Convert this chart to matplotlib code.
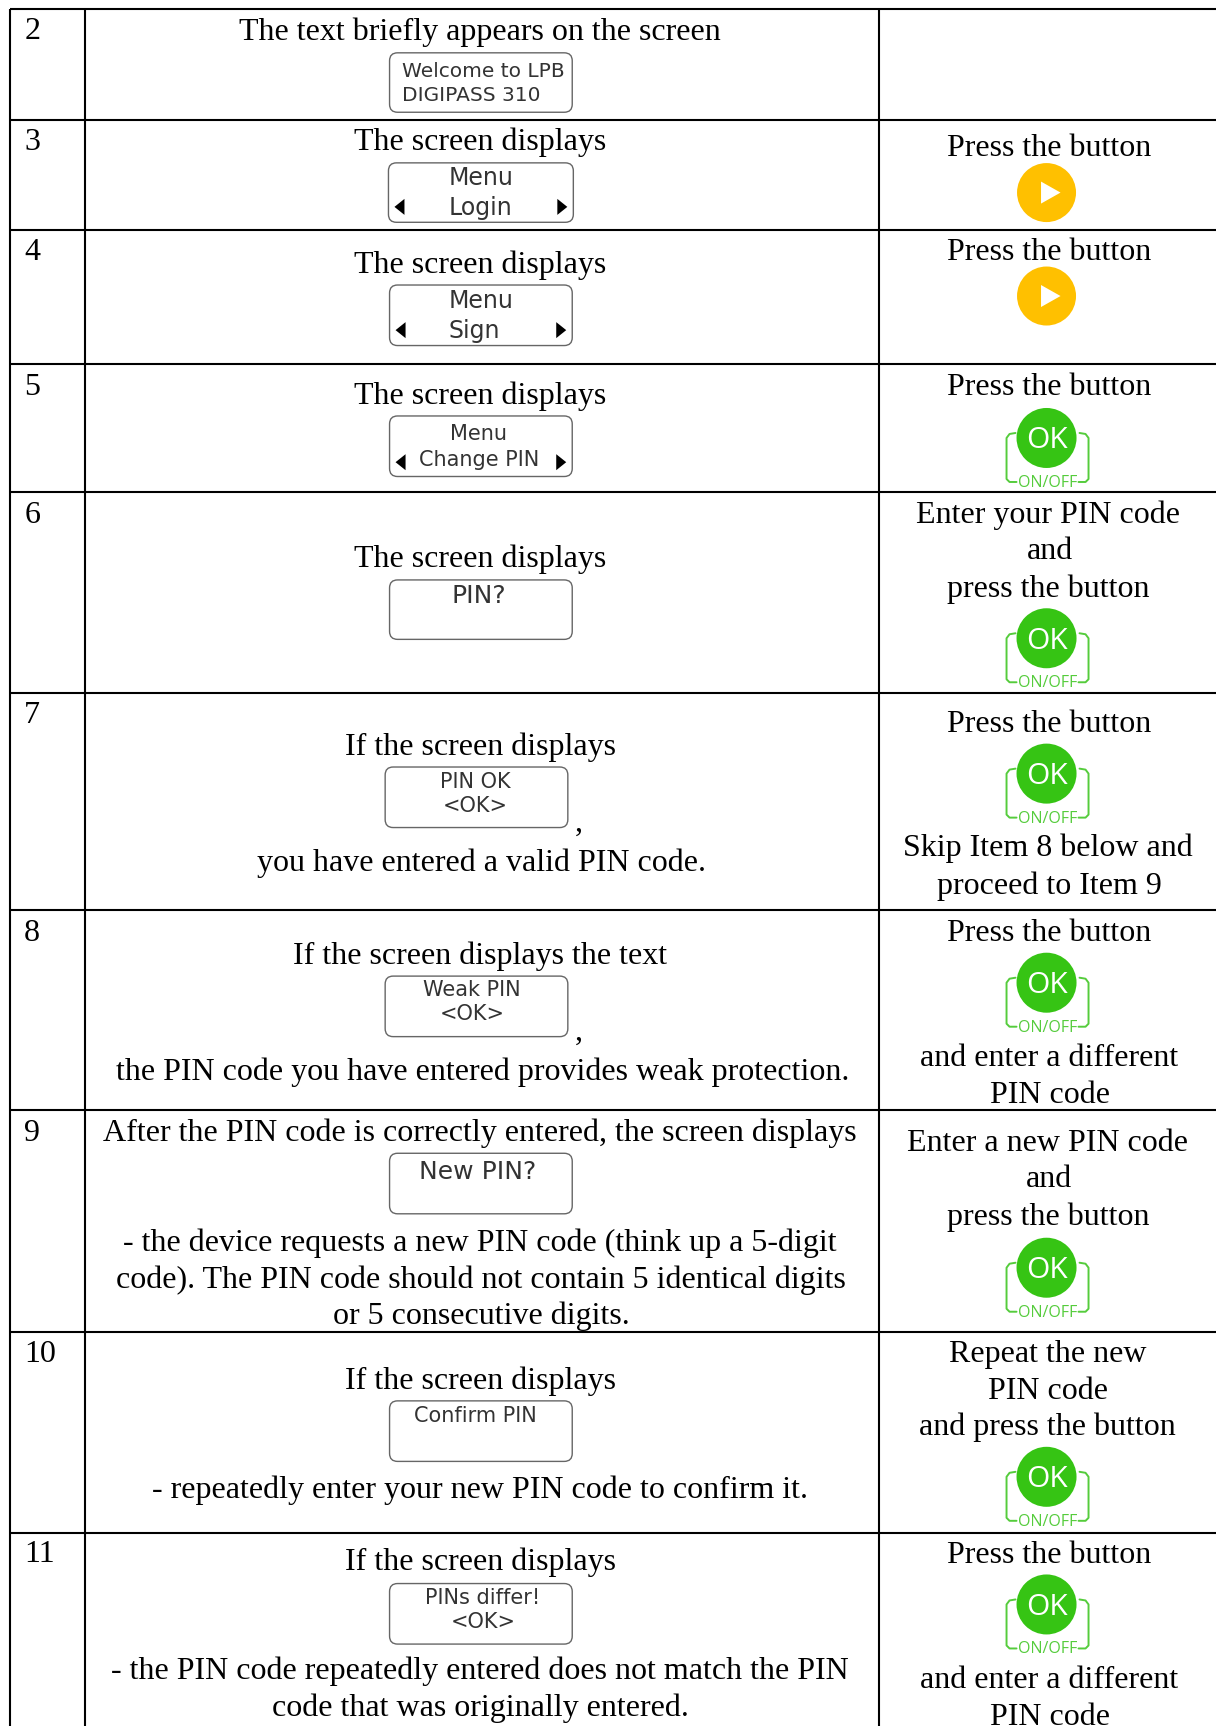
import matplotlib
matplotlib.use('Agg')
import matplotlib.pyplot as plt
from matplotlib.patches import FancyBboxPatch, Circle, Polygon

# table content
row_numbers = ['2', '3', '4', '5', '6', '7', '8', '9', '10', '11']

left_lines = ['The text briefly appears on the screen',
              'The screen displays', 'The screen displays', 'The screen displays', 'The screen displays',
              'If the screen displays', ',', 'you have entered a valid PIN code.',
              'If the screen displays the text', ',', 'the PIN code you have entered provides weak protection.',
              'After the PIN code is correctly entered, the screen displays',
              '- the device requests a new PIN code (think up a 5-digit',
              'code). The PIN code should not contain 5 identical digits',
              'or 5 consecutive digits.',
              'If the screen displays', '- repeatedly enter your new PIN code to confirm it.',
              'If the screen displays', '- the PIN code repeatedly entered does not match the PIN',
              'code that was originally entered.']

right_lines = ['Press the button', 'Press the button', 'Press the button',
               'Enter your PIN code', 'and', 'press the button',
               'Press the button', 'Skip Item 8 below and', 'proceed to Item 9',
               'Press the button', 'and enter a different', 'PIN code',
               'Enter a new PIN code', 'and', 'press the button',
               'Repeat the new', 'PIN code', 'and press the button',
               'Press the button', 'and enter a different', 'PIN code']

screen_lines = [['Welcome to LPB', 'DIGIPASS 310'], ['Menu', 'Login'], ['Menu', 'Sign'],
                ['Menu', 'Change PIN'], ['PIN?'], ['PIN OK', '<OK>'], ['Weak PIN', '<OK>'],
                ['New PIN?'], ['Confirm PIN'], ['PINs differ!', '<OK>']]

# layout, read in the 1105 px wide view
S = 1216 / 1105
hlines = [8, 109, 209, 331, 447, 630, 827, 1009, 1210, 1393]
vlines = [9, 77, 799]
number_y = [26, 127, 227, 350, 466, 648, 846, 1028, 1229, 1410]
left_pos = [(436, 27), (436, 127), (436, 239), (436, 358), (436, 506),
            (437, 677), (526, 746), (438, 782),
            (436, 867), (526, 936), (439, 972),
            (436, 1028), (436, 1128), (437, 1161), (437, 1194),
            (437, 1253), (436, 1352),
            (437, 1418), (436, 1517), (437, 1550)]
right_pos = [(953, 133), (953, 227), (953, 350),
             (952, 466), (954, 499), (953, 533),
             (953, 656), (952, 769), (954, 803),
             (953, 846), (953, 960), (954, 993),
             (952, 1037), (953, 1070), (953, 1104),
             (952, 1229), (952, 1262), (952, 1295),
             (953, 1411), (953, 1525), (954, 1558)]
screen_box = [(354, 520, 48, 102), (353, 521, 148, 202), (354, 520, 259, 314), (354, 520, 378, 433),
              (354, 520, 527, 581), (350, 516, 697, 752), (350, 516, 887, 942),
              (354, 520, 1048, 1103), (354, 520, 1273, 1328), (354, 520, 1439, 1494)]
screen_text_x = [365, 408, 408, 435, 435, 432, 429, 434, 432, 439]
screen_text_y = [[63, 85], [160, 187], [272, 299], [393, 416], [540], [709, 731], [898, 920],
                 [1063], [1285], [1450, 1472]]
screen_size = [14.5, 17, 17, 15, 18, 15, 15, 18, 15, 15]
arrow_y = {1: 188, 2: 300, 3: 420}
play_y = [175, 269]
ok_y = [398, 580, 703, 893, 1152, 1342, 1458]

plt.rcParams['font.family'] = ['DejaVu Sans']
fig = plt.figure(figsize=(12.16, 17.26), dpi=100)
ax = fig.add_axes([0, 0, 1, 1])
ax.set_xlim(0, 1216)
ax.set_ylim(1726, 0)
ax.axis('off')

serif = ['Liberation Serif', 'DejaVu Serif']
FS = 23


def serif_text(x, y, s, ha='center'):
    ax.text(x * S, y * S + 10, s, family=serif, fontsize=FS, ha=ha, va='baseline', color='black')


def draw_screen(box, text, tx, ys, size, left=False):
    x0, x1, y0, y1 = [v * S for v in box]
    ax.add_patch(FancyBboxPatch((x0 + 8, y0 + 8), x1 - x0 - 16, y1 - y0 - 16,
                                boxstyle='round,pad=8,rounding_size=8',
                                fc='white', ec='#666666', lw=1.0))
    for s, y in zip(text, ys):
        ax.text(tx * S, y * S + 2, s, fontsize=size, color='#333333', family='DejaVu Sans',
                ha='left' if left else 'center', va='center')


def draw_play(y):
    cx, cy = 951 * S, y * S
    ax.add_patch(Circle((cx, cy), 29.5, fc='#FFC000', ec='none'))
    ax.add_patch(Polygon([(cx - 5.5, cy - 11), (cx - 5.5, cy + 11), (cx + 14, cy)], fc='white', ec='none'))


def draw_ok(y):
    cx, cy = 951 * S, y * S
    col = '#55CC3C'
    top, bot = cy + 3, cy + 44
    lx, rx = cx - 40, cx + 42
    # brackets either side of the button
    ax.plot([lx + 9, lx + 3, lx, lx, lx + 3, lx + 10], [top - 8, top - 7, top - 3, bot - 3, bot, bot],
            color=col, lw=1.4, solid_capstyle='round')
    ax.plot([rx - 9, rx - 3, rx, rx, rx - 3, rx - 10], [top - 8, top - 7, top - 3, bot - 3, bot, bot],
            color=col, lw=1.4, solid_capstyle='round')
    ax.add_patch(Circle((cx, cy), 30, fc='#36C414', ec='none', zorder=3))
    ax.text(cx, cy + 3, 'OK', color='white', fontsize=21.5, family=['Open Sans', 'DejaVu Sans'],
            ha='center', va='center', zorder=4)
    ax.text(cx + 1, bot + 1, 'ON/OFF', color=col, fontsize=11.5, family=['Open Sans', 'DejaVu Sans'],
            ha='center', va='center', zorder=4)


# grid of the table
for y in hlines:
    ax.plot([vlines[0] * S, 1216], [y * S, y * S], color='black', lw=1.5, solid_capstyle='butt')
for x in vlines:
    ax.plot([x * S, x * S], [hlines[0] * S, 1726], color='black', lw=1.5, solid_capstyle='butt')

for s, y in zip(row_numbers, number_y):
    serif_text(22, y, s, ha='left')
for s, (x, y) in zip(left_lines, left_pos):
    serif_text(x, y, s)
for s, (x, y) in zip(right_lines, right_pos):
    serif_text(x, y, s)

for i, text in enumerate(screen_lines):
    draw_screen(screen_box[i], text, screen_text_x[i], screen_text_y[i], screen_size[i], left=i < 3)

for i, y in arrow_y.items():
    x0, x1 = screen_box[i][0] * S, screen_box[i][1] * S
    cy = y * S
    ax.add_patch(Polygon([(x0 + 16, cy - 8), (x0 + 16, cy + 8), (x0 + 6, cy)], fc='black', ec='none'))
    ax.add_patch(Polygon([(x1 - 16, cy - 8), (x1 - 16, cy + 8), (x1 - 6, cy)], fc='black', ec='none'))

for y in play_y:
    draw_play(y)
for y in ok_y:
    draw_ok(y)

fig.savefig('out.png', dpi=100)
